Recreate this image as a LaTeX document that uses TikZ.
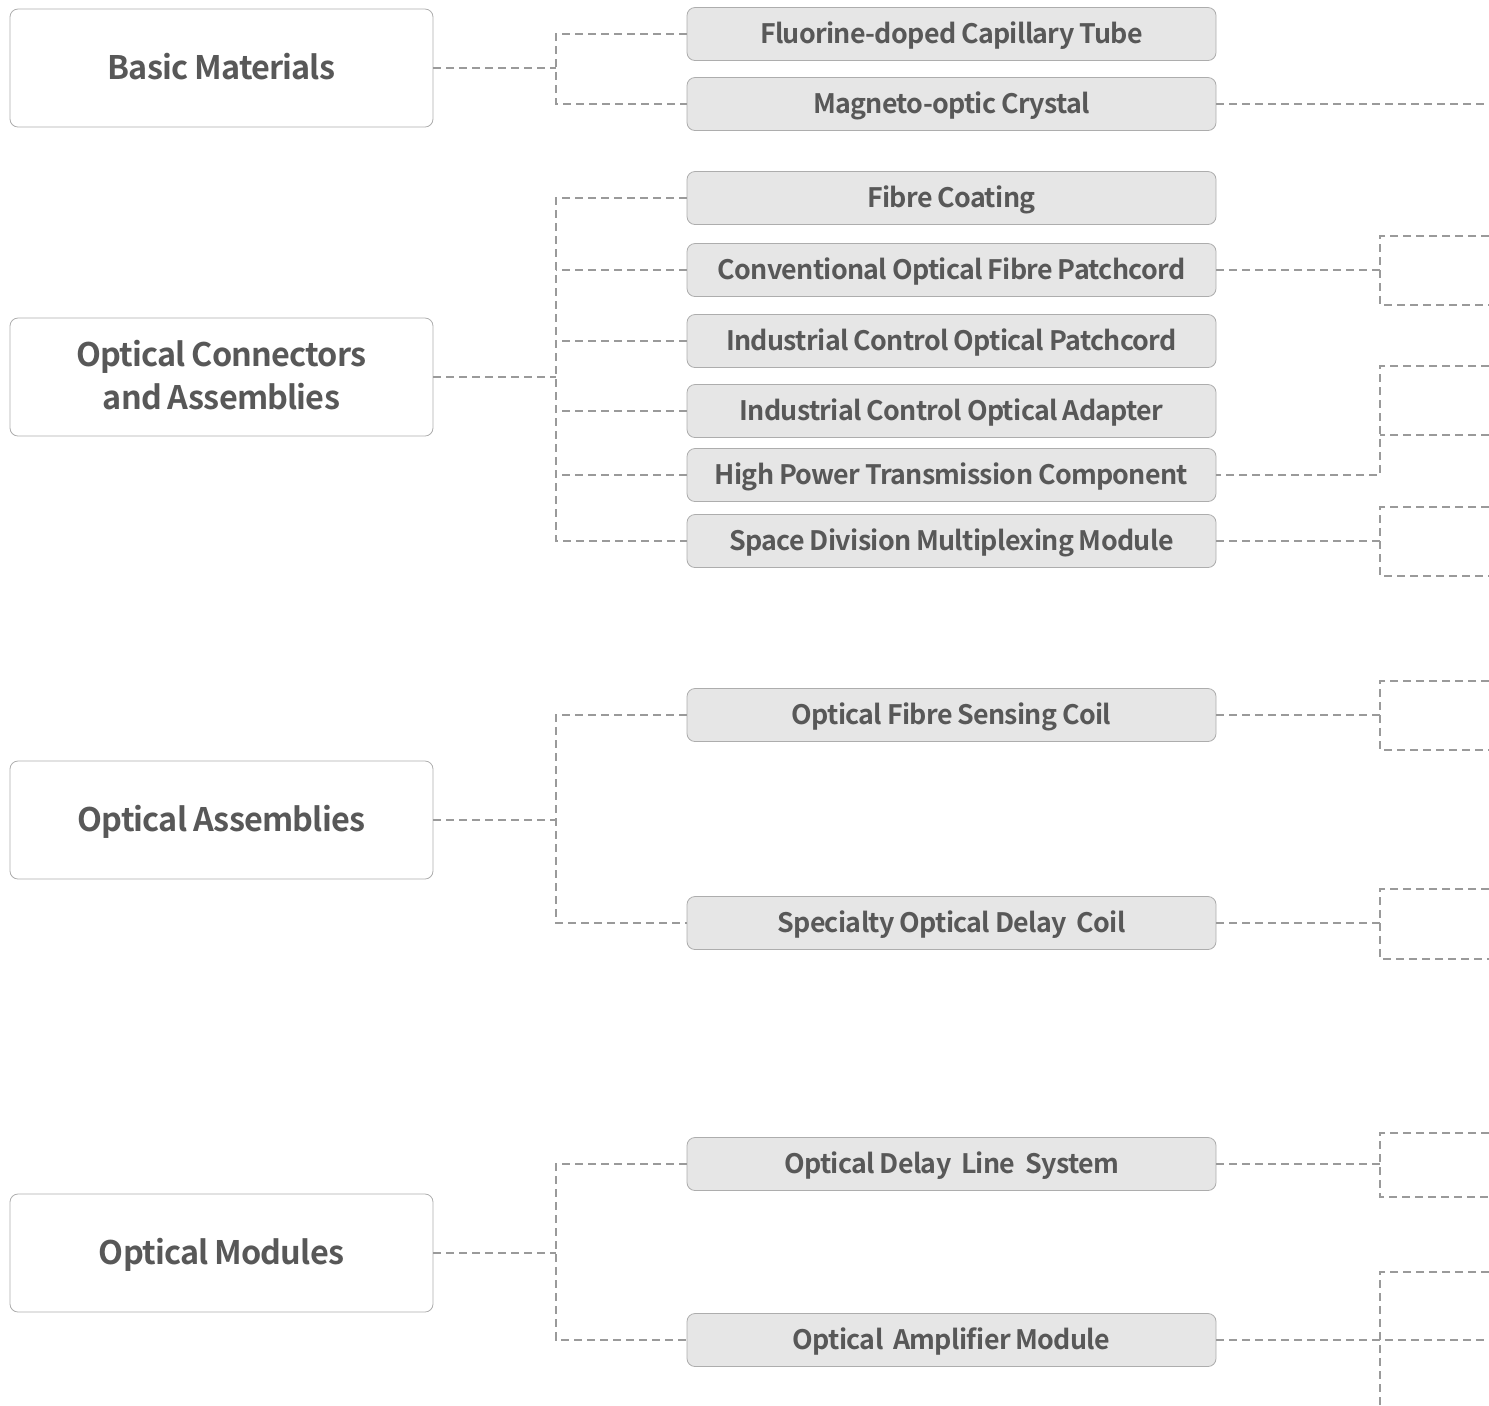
\documentclass[tikz,border=0pt]{standalone}
\usepackage{fontspec}
\setmainfont{Noto Sans CJK SC}
\newfontfamily\labelfont{Noto Sans CJK SC Bold}[LetterSpace=-2.5,WordSpace=0.9]
\usetikzlibrary{positioning}

\definecolor{txtgray}{HTML}{585858}
\definecolor{boxgray}{HTML}{ADADAD}
\definecolor{itemgray}{HTML}{E6E6E6}
\definecolor{linegray}{HTML}{9A9A9A}

\begin{document}
\begin{tikzpicture}[x=0.5pt,y=-0.5pt,
  cat node/.style={draw=boxgray,fill=white,rounded corners=4pt,minimum width=211.5pt,
    minimum height=59pt,align=center,text=txtgray,text height=13.5pt,text depth=2.5pt,
    font=\labelfont\fontsize{16.2}{21.5}\selectfont},
  item node/.style={draw=boxgray,fill=itemgray,rounded corners=4pt,minimum width=264.5pt,
    minimum height=26.5pt,text=txtgray,text height=11.8pt,text depth=2.3pt,
    font=\labelfont\fontsize{13.4}{16}\selectfont},
  link/.style={draw=linegray,line width=0.6pt,dash pattern=on 4pt off 2.5pt}]
  \useasboundingbox (0,0) rectangle (1489,1405);

  % left column
  \node[cat node] (basic) at (221.5,68) {Basic Materials};
  \node[cat node,text height=35pt] (conn) at (221.5,377) {Optical Connectors\\and Assemblies};
  \node[cat node] (assem) at (221.5,820) {Optical Assemblies};
  \node[cat node] (modul) at (221.5,1253) {Optical Modules};

  % middle column
  \node[item node] (fluor) at (951.5,34) {Fluorine-doped Capillary Tube};
  \node[item node] (magneto) at (951.5,104) {Magneto-optic Crystal};
  \node[item node] (coating) at (951.5,198) {Fibre Coating};
  \node[item node] (convpc) at (951.5,270) {Conventional Optical Fibre Patchcord};
  \node[item node] (indpc) at (951.5,341) {Industrial Control Optical Patchcord};
  \node[item node] (indad) at (951.5,411) {Industrial Control Optical Adapter};
  \node[item node] (hipow) at (951.5,475) {High Power Transmission Component};
  \node[item node] (sdm) at (951.5,541) {Space Division Multiplexing Module};
  \node[item node] (senscoil) at (951.5,715) {Optical Fibre Sensing Coil};
  \node[item node] (delaycoil) at (951.5,923) {Specialty Optical Delay~ Coil};
  \node[item node] (delayline) at (951.5,1164) {Optical Delay~ Line~ System};
  \node[item node] (amp) at (951.5,1340) {Optical~ Amplifier Module};

  % junctions on the bus
  \coordinate (jbasic) at (556,68);
  \coordinate (jconn) at (556,377);
  \coordinate (jassem) at (556,820);
  \coordinate (jmodul) at (556,1253);

  \draw[link] (basic.east) -- (jbasic);
  \draw[link] (fluor.west) -| (jbasic) |- (magneto.west);

  \draw[link] (conn.east) -- (jconn);
  \draw[link] (coating.west) -| (jconn) |- (sdm.west);
  \draw[link] (convpc.west) -- (convpc.west -| jconn);
  \draw[link] (indpc.west) -- (indpc.west -| jconn);
  \draw[link] (indad.west) -- (indad.west -| jconn);
  \draw[link] (hipow.west) -- (hipow.west -| jconn);

  \draw[link] (assem.east) -- (jassem);
  \draw[link] (senscoil.west) -| (jassem) |- (delaycoil.west);

  \draw[link] (modul.east) -- (jmodul);
  \draw[link] (delayline.west) -| (jmodul) |- (amp.west);

  % right side, cut off at the edge
  \coordinate (emagneto) at (1489,104);
  \draw[link] (magneto.east) -- (emagneto);

  \coordinate (rconv) at (1380,270);
  \coordinate (rconvt) at (1489,236);
  \coordinate (rconvb) at (1489,305);
  \draw[link] (convpc.east) -- (rconv);
  \draw[link] (rconvt) -| (rconv) |- (rconvb);

  \coordinate (rhipow) at (1380,475);
  \coordinate (rhipowt) at (1489,366);
  \coordinate (rhipowm) at (1489,435);
  \draw[link] (rhipowt) -| (rhipow) -- (hipow.east);
  \draw[link] (rhipowm) -- (rhipowm -| rhipow);

  \coordinate (rsdm) at (1380,541);
  \coordinate (rsdmt) at (1489,507);
  \coordinate (rsdmb) at (1489,576);
  \draw[link] (sdm.east) -- (rsdm);
  \draw[link] (rsdmt) -| (rsdm) |- (rsdmb);

  \coordinate (rsens) at (1380,715);
  \coordinate (rsenst) at (1489,681);
  \coordinate (rsensb) at (1489,750);
  \draw[link] (senscoil.east) -- (rsens);
  \draw[link] (rsenst) -| (rsens) |- (rsensb);

  \coordinate (rdcoil) at (1380,923);
  \coordinate (rdcoilt) at (1489,889);
  \coordinate (rdcoilb) at (1489,959);
  \draw[link] (delaycoil.east) -- (rdcoil);
  \draw[link] (rdcoilt) -| (rdcoil) |- (rdcoilb);

  \coordinate (rdline) at (1380,1164);
  \coordinate (rdlinet) at (1489,1133);
  \coordinate (rdlineb) at (1489,1197);
  \draw[link] (delayline.east) -- (rdline);
  \draw[link] (rdlinet) -| (rdline) |- (rdlineb);

  \coordinate (eamp) at (1489,1340);
  \coordinate (rampt) at (1489,1272);
  \coordinate (rampb) at (1380,1405);
  \draw[link] (amp.east) -- (eamp);
  \draw[link] (rampt) -| (rampb);
\end{tikzpicture}
\end{document}
